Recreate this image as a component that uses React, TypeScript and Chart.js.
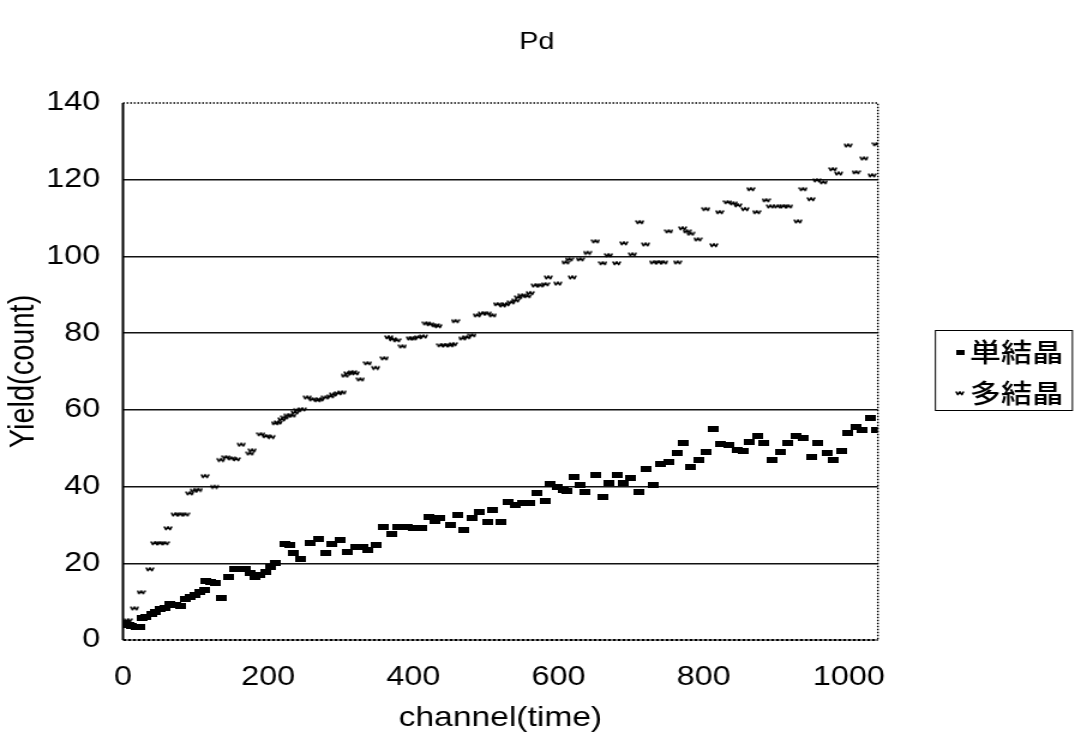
import React, { useEffect, useRef } from 'react';
import { Chart, registerables } from 'chart.js';

Chart.register(...registerables);

// ---- data ----
const titleText = 'Pd';
const xTitle = 'channel(time)';
const yTitle = 'Yield(count)';
const seriesNames = ['単結晶', '多結晶'];
const xTickValues = [0, 200, 400, 600, 800, 1000];
const yTickValues = [0, 20, 40, 60, 80, 100, 120, 140];

// 単結晶 (single crystal)
const singleCh = [
  4, 8, 11, 18, 23, 27, 32, 39, 45, 52, 58, 65, 72, 79, 86, 92, 99, 106, 112, 114,
  121, 128, 135, 145, 154, 161, 168, 175, 182, 189, 196, 203, 210, 223, 230, 234, 244, 258, 269, 279,
  288, 299, 309, 320, 330, 338, 349, 359, 371, 379, 392, 400, 412, 421, 430, 437, 451, 461, 469, 481,
  491, 502, 509, 520, 530, 541, 550, 561, 571, 582, 589, 599, 606, 612, 621, 630, 637, 651, 662, 670,
  681, 690, 699, 710, 721, 731, 741, 752, 763, 772, 782, 793, 803, 813, 823, 834, 847, 855, 863, 874,
  883, 895, 906, 916, 927, 937, 948, 957, 970, 979, 990, 999, 1010, 1019, 1029, 1038,
];
const singleY = [
  4.4, 3.8, 3.6, 3.4, 3.4, 5.7, 6, 6.8, 7.3, 8.1, 8.3, 9.4, 9.1, 8.9, 10.7, 11.2, 11.7, 12.5, 13, 15.4,
  15.1, 14.9, 11, 16.4, 18.5, 18.5, 18.5, 17.5, 16.4, 16.9, 17.7, 19, 20, 25, 24.8, 22.7, 21, 25.3, 26.3, 22.7,
  25, 26, 23, 24.2, 24.2, 23.5, 24.8, 29.5, 27.6, 29.5, 29.5, 29.2, 29.2, 32, 31, 31.8, 30, 32.6, 28.7, 31.8,
  33.4, 30.8, 33.9, 30.8, 36, 35.2, 35.7, 35.7, 38.3, 36.2, 40.7, 39.9, 39.1, 38.8, 42.5, 40.4, 38.6, 43, 37.3, 40.9,
  43, 40.9, 42.2, 38.6, 44.6, 40.4, 45.9, 46.4, 48.7, 51.4, 45.1, 46.9, 49, 55, 51.1, 50.8, 49.5, 49.3, 51.6, 53.2,
  51.4, 46.9, 49, 51.4, 53.2, 52.7, 47.7, 51.4, 48.7, 46.9, 49.3, 54, 55.5, 54.7, 57.9, 54.7,
];

// 多結晶 (polycrystal)
const polyCh = [
  2, 7, 16, 25, 37, 44, 51, 58, 62, 72, 79, 86, 92, 98, 104, 113, 126, 135, 142, 149,
  156, 163, 175, 178, 190, 197, 204, 210, 214, 219, 223, 228, 233, 237, 241, 247, 254, 261, 268, 272,
  279, 286, 290, 297, 302, 306, 310, 316, 320, 327, 337, 348, 360, 366, 371, 377, 385, 396, 400, 407,
  414, 418, 423, 430, 434, 438, 444, 451, 455, 458, 468, 474, 481, 488, 495, 502, 509, 516, 523, 528,
  535, 541, 545, 550, 557, 561, 568, 575, 582, 586, 599, 610, 615, 619, 630, 640, 651, 661, 669, 680,
  690, 702, 712, 720, 731, 738, 745, 752, 764, 771, 777, 782, 792, 803, 814, 822, 833, 841, 847, 857,
  865, 873, 886, 892, 902, 910, 917, 930, 937, 948, 956, 965, 978, 986, 999, 1010, 1021, 1032, 1038,
];
const polyY = [
  4.5, 5.2, 8.3, 12.5, 18.5, 25.3, 25.3, 25.3, 29.2, 32.8, 32.8, 32.8, 38.3, 39, 39.2, 42.8, 40, 47, 47.7, 47.4,
  47.2, 51, 48.7, 49.5, 53.7, 53.2, 53, 56.6, 56.8, 57.6, 58.1, 58.6, 58.6, 59.4, 60, 60.2, 63.3, 62.8, 62.6, 62.8,
  63.3, 63.6, 64.1, 64.4, 64.6, 69, 69.6, 69.9, 69.6, 68, 72.2, 71, 73.5, 79, 78.5, 78.2, 76.6, 78.7, 78.7, 79,
  79.2, 82.6, 82.4, 82.1, 81.9, 76.9, 76.9, 76.9, 77.2, 83.2, 78.7, 79, 79.5, 84.7, 85.2, 85.2, 84.7, 87.6, 87.3, 87.6,
  88.1, 88.6, 89.4, 89.9, 89.7, 90.5, 92.5, 92.5, 92.8, 94.6, 93, 98.5, 99.3, 94.6, 99.3, 101, 104, 98.3, 100.4, 98.3,
  103.5, 100.6, 109, 103.2, 98.5, 98.5, 98.5, 106.6, 98.5, 107.4, 106.6, 106, 104.5, 112.4, 103, 111.6, 114.2, 113.9, 113.4, 112.4,
  117.6, 111.6, 114.7, 113.1, 113.1, 113.1, 113.1, 109.2, 117.6, 115, 119.9, 119.4, 122.8, 121.7, 129, 122, 125.6, 121.2, 129.3,
];

// ---- layout (page pixels; canvas is drawn narrower and stretched horizontally) ----
const STRETCH = 1.2;
const PAGE_W = 1075;
const PAGE_H = 737;
const CW = Math.round(PAGE_W / STRETCH);
const sx = (px: number) => px / STRETCH;
const FONT = '"Liberation Sans", Arial, sans-serif';

function makeRectMarker(w: number, h: number) {
  const c = document.createElement('canvas');
  c.width = w;
  c.height = h;
  const g = c.getContext('2d')!;
  g.fillStyle = '#000';
  g.fillRect(0, 0, w, h);
  return c;
}

function makeSquiggle() {
  const c = document.createElement('canvas');
  c.width = 8;
  c.height = 6;
  const g = c.getContext('2d')!;
  g.strokeStyle = '#000';
  g.lineWidth = 1.6;
  g.lineJoin = 'round';
  g.beginPath();
  g.moveTo(0.8, 1.5);
  g.lineTo(2.3, 4.6);
  g.lineTo(4, 1.8);
  g.lineTo(5.7, 4.6);
  g.lineTo(7.2, 1.5);
  g.stroke();
  return c;
}

export default function App() {
  const ref = useRef<HTMLCanvasElement | null>(null);

  useEffect(() => {
    const canvas = ref.current!;
    const rectM = makeRectMarker(9, 6);
    const squig = makeSquiggle();
    const legRect = makeRectMarker(7, 5);

    const framePlugin = {
      id: 'frame',
      beforeDatasetsDraw(chart: any) {
        const { ctx, chartArea: a } = chart;
        ctx.save();
        ctx.strokeStyle = '#000';
        ctx.lineWidth = 1.5;
        ctx.setLineDash([1.5, 1.5]);
        ctx.beginPath();
        ctx.moveTo(a.left, a.top);
        ctx.lineTo(a.right, a.top);
        ctx.lineTo(a.right, a.bottom);
        ctx.stroke();
        ctx.setLineDash([3, 1]);
        ctx.lineWidth = 2;
        ctx.beginPath();
        ctx.moveTo(a.left, a.bottom);
        ctx.lineTo(a.right, a.bottom);
        ctx.stroke();
        ctx.setLineDash([]);
        ctx.lineWidth = 2;
        ctx.beginPath();
        ctx.moveTo(a.left, a.top);
        ctx.lineTo(a.left, a.bottom);
        ctx.stroke();
        ctx.restore();
      },
      afterDraw(chart: any) {
        const { ctx } = chart;
        ctx.save();
        ctx.fillStyle = '#000';
        ctx.font = `24px ${FONT}`;
        ctx.textAlign = 'center';
        ctx.textBaseline = 'middle';
        ctx.fillText(titleText, sx(537), 42);
        ctx.strokeStyle = '#000';
        ctx.lineWidth = 1;
        ctx.strokeRect(sx(935) + 0.5, 330.5, sx(1072) - sx(935), 80);
        ctx.font = '500 26px "Noto Sans CJK JP", sans-serif';
        ctx.textAlign = 'left';
        const rows = [352, 393];
        const marks = [legRect, squig];
        for (let i = 0; i < seriesNames.length; i++) {
          const m = marks[i];
          ctx.drawImage(m, sx(960) - m.width / 2, rows[i] - m.height / 2);
          ctx.fillText(seriesNames[i], sx(970), rows[i]);
        }
        ctx.restore();
      },
    };

    const chart = new Chart(canvas, {
      type: 'scatter',
      data: {
        datasets: [
          {
            label: seriesNames[0],
            data: singleCh.map((x, i) => ({ x, y: singleY[i] })),
            pointStyle: rectM as any,
            pointRadius: 4,
            showLine: false,
          },
          {
            label: seriesNames[1],
            data: polyCh.map((x, i) => ({ x, y: polyY[i] })),
            pointStyle: squig as any,
            pointRadius: 4,
            showLine: false,
          },
        ],
      },
      options: {
        responsive: false,
        animation: false,
        devicePixelRatio: 1,
        color: '#000',
        layout: { padding: { top: 103, left: 0, bottom: 0, right: CW - sx(878) } },
        plugins: {
          legend: { display: false },
          title: { display: false },
          tooltip: { enabled: false },
        },
        scales: {
          x: {
            type: 'linear',
            min: 0,
            max: 1040,
            afterBuildTicks: (s: any) => {
              s.ticks = xTickValues.map((v) => ({ value: v }));
            },
            afterFit: (s: any) => {
              s.height = PAGE_H - 640;
            },
            grid: { display: false, drawTicks: false },
            border: { display: false },
            ticks: {
              color: '#000',
              padding: 21,
              maxRotation: 0,
              autoSkip: false,
              callback: (v: any) => String(v),
              font: { family: FONT, size: 27 },
            },
            title: {
              display: true,
              text: xTitle,
              color: '#000',
              padding: { top: 0, bottom: 2 },
              font: { family: FONT, size: 28 },
            },
          },
          y: {
            type: 'linear',
            min: 0,
            max: 140,
            afterBuildTicks: (s: any) => {
              s.ticks = yTickValues.map((v) => ({ value: v }));
            },
            afterFit: (s: any) => {
              s.width = sx(123);
            },
            grid: {
              drawTicks: false,
              lineWidth: 1.5,
              color: (c: any) =>
                c.tick && (c.tick.value === 0 || c.tick.value === 140) ? 'rgba(0,0,0,0)' : '#111',
            },
            border: { display: false },
            ticks: {
              color: '#000',
              padding: 19,
              callback: (v: any) => String(v),
              font: { family: FONT, size: 27 },
            },
            title: {
              display: true,
              text: yTitle,
              color: '#000',
              padding: { top: 3, bottom: 0 },
              font: { family: FONT, size: 29 },
            },
          },
        },
      },
      plugins: [framePlugin],
    } as any);

    return () => chart.destroy();
  }, []);

  return (
    <div style={{ position: 'fixed', left: 0, top: 0, width: PAGE_W, height: PAGE_H, background: '#fff' }}>
      <canvas
        ref={ref}
        width={CW}
        height={PAGE_H}
        style={{ width: PAGE_W + 'px', height: PAGE_H + 'px', display: 'block' }}
      />
    </div>
  );
}
